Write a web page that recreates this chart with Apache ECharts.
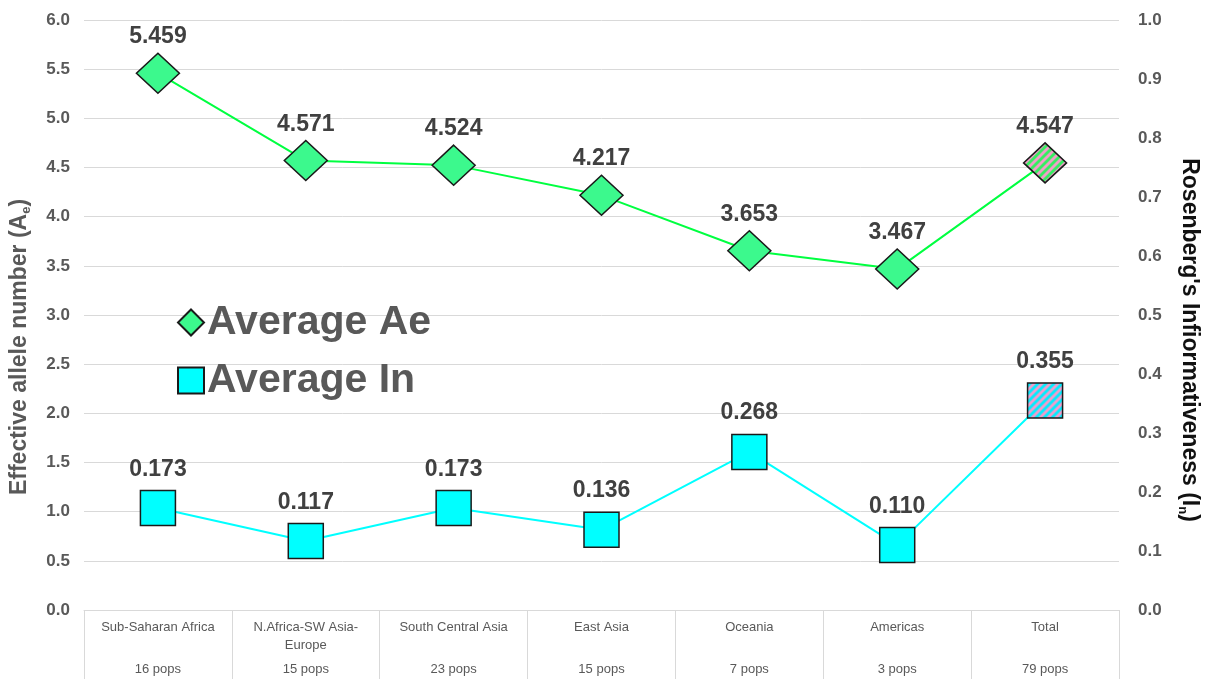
<!DOCTYPE html>
<html><head><meta charset="utf-8">
<script src="https://cdn.jsdelivr.net/npm/echarts@6/dist/echarts.min.js"></script>
<style>html,body{margin:0;padding:0;background:#fff}#c{width:1208px;height:679px}</style>
</head><body><div id="c"></div>
<script>
// ---- data ----
const regions = ['Sub-Saharan Africa', 'N.Africa-SW Asia-\nEurope', 'South Central Asia', 'East Asia', 'Oceania', 'Americas', 'Total'];
const pops = ['16 pops', '15 pops', '23 pops', '15 pops', '7 pops', '3 pops', '79 pops'];
const aeValues = [5.459, 4.571, 4.524, 4.217, 3.653, 3.467, 4.547];
const inValues = [0.173, 0.117, 0.173, 0.136, 0.268, 0.110, 0.355];
const seriesNames = ['Average Ae', 'Average In'];
const leftAxis = { min: 0, max: 6, interval: 0.5 };
const rightAxis = { min: 0, max: 1, interval: 0.1 };
const totalIndex = 6;

// ---- styles ----
const aeSize = [43, 40], inSize = [35, 35];
function stripes(bg, fg) {
  const c = document.createElement('canvas');
  c.width = 8; c.height = 8;
  const g = c.getContext('2d');
  g.fillStyle = bg; g.fillRect(0, 0, 8, 8);
  g.strokeStyle = fg; g.lineWidth = 2.8;
  [[-4, 4, 4, -4], [0, 8, 8, 0], [4, 12, 12, 4]].forEach(function (l) {
    g.beginPath(); g.moveTo(l[0], l[1]); g.lineTo(l[2], l[3]); g.stroke();
  });
  return c;
}
const aeFill = '#3cf98d', inFill = '#00ffff';
// symbols are drawn at unit size and scaled by size/2, so counter-scale the pattern
const aePattern = { image: stripes('#f59ccb', '#33f060'), repeat: 'repeat', scaleX: 2 / aeSize[0], scaleY: 2 / aeSize[1] };
const inPattern = { image: stripes('#f59ccb', '#00eeff'), repeat: 'repeat', scaleX: 2 / inSize[0], scaleY: 2 / inSize[1] };

function seriesData(vals, pattern) {
  return vals.map(function (v, i) {
    return i === totalIndex ? { value: v, itemStyle: { color: pattern } } : v;
  });
}

const chart = echarts.init(document.getElementById('c'), null, { renderer: 'canvas' });
chart.setOption({
  backgroundColor: '#ffffff',
  animation: false,
  textStyle: { fontFamily: 'Liberation Sans, Arial, sans-serif' },
  grid: { left: 84, right: 89, top: 20, bottom: 69, containLabel: false, outerBoundsMode: 'none' },
  legend: {
    orient: 'vertical', left: 172, top: 297,
    itemWidth: 26, itemHeight: 26, itemGap: 17,
    data: [{ name: seriesNames[0], icon: 'diamond' }, { name: seriesNames[1], icon: 'rect' }],
    textStyle: { fontSize: 41, fontWeight: 'bold', color: '#595959', padding: [0, 0, 0, -2] }
  },
  xAxis: {
    type: 'category',
    data: regions.map(function (r, i) { return i; }),
    boundaryGap: true,
    axisLine: { lineStyle: { color: '#d9d9d9', width: 1 } },
    axisTick: { show: true, interval: 0, length: 69, lineStyle: { color: '#d9d9d9' } },
    axisLabel: {
      interval: 0, margin: 8,
      formatter: function (v) {
        const parts = regions[v].split('\n');
        const first = parts.map(function (p) { return '{a|' + p + '}'; });
        if (first.length < 2) first.push('{a| }');
        return first.join('\n') + '\n{b|' + pops[v] + '}';
      },
      rich: {
        a: { fontSize: 13, color: '#595959', lineHeight: 18, align: 'center' },
        b: { fontSize: 13, color: '#595959', lineHeight: 22, align: 'center', verticalAlign: 'bottom' }
      }
    }
  },
  yAxis: [
    {
      type: 'value', min: leftAxis.min, max: leftAxis.max, interval: leftAxis.interval,
      position: 'left',
      name: '{t|Effective allele number (A}{s|e}{t|)}',
      nameLocation: 'middle', nameGap: 51, nameRotate: 90,
      nameTextStyle: {
        padding: [0, 64, 0, 0],
        rich: {
          t: { fontSize: 23, fontWeight: 'bold', color: '#595959', lineHeight: 26 },
          s: { fontSize: 13, fontWeight: 'bold', color: '#595959', verticalAlign: 'bottom', lineHeight: 22 }
        }
      },
      axisLine: { show: false }, axisTick: { show: false },
      axisLabel: { margin: 14, fontSize: 17, fontWeight: 'bold', color: '#595959', formatter: function (v) { return v.toFixed(1); } },
      splitLine: { lineStyle: { color: '#d9d9d9', width: 1 } }
    },
    {
      type: 'value', min: rightAxis.min, max: rightAxis.max, interval: rightAxis.interval,
      position: 'right',
      name: '{t|Rosenberg\'s Infiormativeness (I}{s|n}{t|)}',
      nameLocation: 'middle', nameGap: 57, nameRotate: -90,
      nameTextStyle: {
        padding: [0, 0, 0, 50],
        rich: {
          t: { fontSize: 23, fontWeight: 'bold', color: '#111111', lineHeight: 26 },
          s: { fontSize: 13, fontWeight: 'bold', color: '#111111', verticalAlign: 'bottom', lineHeight: 22 }
        }
      },
      axisLine: { show: false }, axisTick: { show: false },
      axisLabel: { margin: 19, fontSize: 17, fontWeight: 'bold', color: '#595959', formatter: function (v) { return v.toFixed(1); } },
      splitLine: { show: false }
    }
  ],
  series: [
    {
      name: seriesNames[0], type: 'line', yAxisIndex: 0,
      data: seriesData(aeValues, aePattern),
      symbol: 'diamond', symbolSize: aeSize,
      lineStyle: { color: '#00ff40', width: 2 },
      itemStyle: { color: aeFill, borderColor: '#1a1a1a', borderWidth: 1.5 },
      label: { show: true, position: 'top', distance: 4, fontSize: 23, fontWeight: 'bold', color: '#404040', formatter: function (p) { return p.value.toFixed(3); } },
      z: 3
    },
    {
      name: seriesNames[1], type: 'line', yAxisIndex: 1,
      data: seriesData(inValues, inPattern),
      symbol: 'rect', symbolSize: inSize,
      lineStyle: { color: '#00ffff', width: 2 },
      itemStyle: { color: inFill, borderColor: '#1a1a1a', borderWidth: 1.5 },
      label: { show: true, position: 'top', distance: 9, fontSize: 23, fontWeight: 'bold', color: '#404040', formatter: function (p) { return p.value.toFixed(3); } },
      z: 3
    }
  ]
});
</script>
</body></html>
